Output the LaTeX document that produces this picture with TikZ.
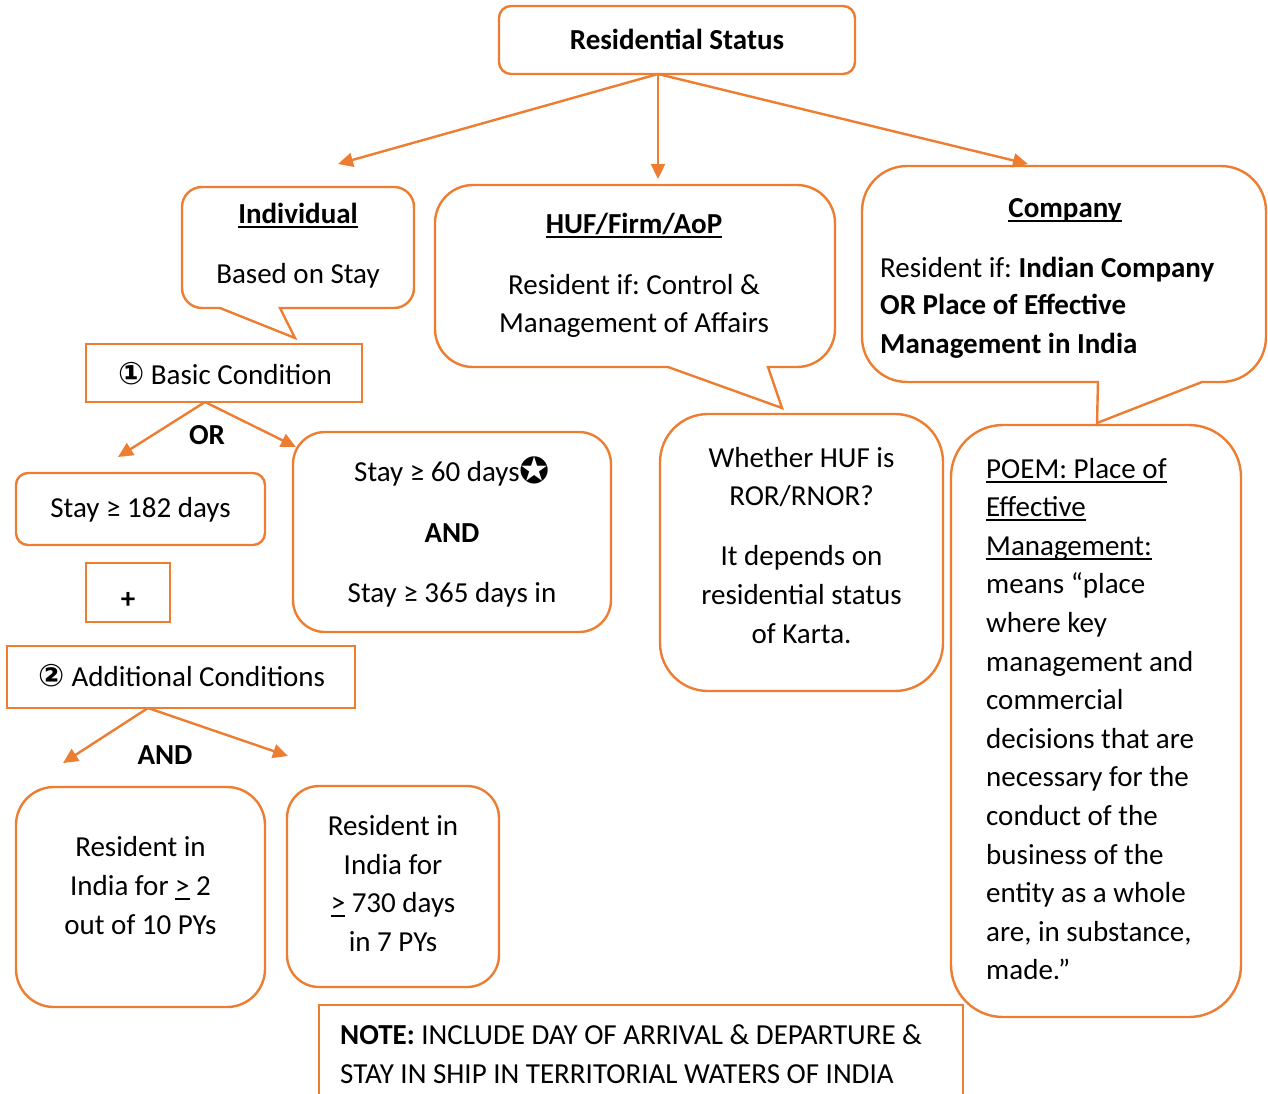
\documentclass[tikz,border=0pt]{standalone}
\usepackage{fontspec}
\setmainfont{Carlito}
\newfontfamily\symf{DejaVu Sans}
\usetikzlibrary{arrows.meta}
\definecolor{acc}{RGB}{237,125,49}
\frenchspacing
% underline drawn as a rule under the text box
\newcommand\ulx[1]{{\setbox0\hbox{#1}\rlap{\rule[-4.5pt]{\wd0}{1.8pt}}\box0}}
% circled digits and the star mark
\newcommand\circnum[1]{{\symf\bfseries\fontsize{31}{36}\selectfont #1}}
\newcommand\starmark{{\symf\fontsize{36}{40}\selectfont\raisebox{-2pt}{✪}}}

\begin{document}
\begin{tikzpicture}[x=1pt,y=-1pt,
  ln/.style={draw=acc, line width=2.4pt},
  sq/.style={ln, rectangle, inner sep=0pt},
  rr/.style={ln, rectangle, inner sep=0pt, rounded corners=#1},
  sz/.style 2 args={minimum width=#1pt, minimum height=#2pt},
  arr/.style={draw=acc, line width=2.4pt, -{Triangle[length=15pt,width=14pt,fill=acc]}},
  txt/.style={anchor=base, inner sep=0pt, font=\fontsize{29}{38.6}\selectfont},
  lt/.style={txt, anchor=base west},
]
\useasboundingbox (0,0) rectangle (1268,1093);

% ---------- top box ----------
\node[rr=12pt, sz={356}{68}] (rs) at (677,40) {};
\node[txt] (rs-t) at (677,49) {\textbf{Residential Status}};

% ---------- callout: individual ----------
\coordinate (ind-tip) at (295,338);
\draw[ln, rounded corners=20pt] (298,187) -- (414,187) -- (414,308)
  [sharp corners] -- (280,308) -- (ind-tip) -- (220,308)
  [rounded corners=20pt] -- (182,308) -- (182,187) -- cycle;
\node[txt] (ind-h) at (298,223) {\ulx{\textbf{Individual}}};
\node[txt] (ind-t) at (298,283) {Based on Stay};

% ---------- callout: HUF ----------
\coordinate (huf-tip) at (782,408);
\draw[ln, rounded corners=38pt] (635,185) -- (835,185) -- (835,367)
  [sharp corners] -- (768,367) -- (huf-tip) -- (668,367)
  [rounded corners=38pt] -- (435,367) -- (435,185) -- cycle;
\node[txt] (huf-h) at (634,233) {\ulx{\textbf{HUF/Firm/AoP}}};
\node[txt] (huf-1) at (634,294) {Resident if: Control \&};
\node[txt] (huf-2) at (634,332) {Management of Affairs};

% ---------- callout: company ----------
\coordinate (comp-tip) at (1097,423);
\draw[ln, rounded corners=45pt] (1065,166) -- (1266,166) -- (1266,382)
  [sharp corners] -- (1202,382) -- (comp-tip) -- (1098,382)
  [rounded corners=45pt] -- (862,382) -- (862,166) -- cycle;
\node[txt] (comp-h) at (1065,217) {\ulx{\textbf{Company}}};
\node[lt] (comp-1) at (880,277) {Resident if: \textbf{Indian Company}};
\node[lt] (comp-2) at (880,314) {\textbf{OR Place of Effective}};
\node[lt] (comp-3) at (880,353) {\textbf{Management in India}};

% ---------- arrows from the top ----------
\coordinate (rs-out) at (658,74);
\coordinate (ind-in) at (338,164);
\coordinate (huf-in) at (658,179);
\coordinate (comp-in) at (1028,164);
\draw[arr] (rs-out) -- (ind-in);
\draw[arr] (rs-out) -- (huf-in);
\draw[arr] (rs-out) -- (comp-in);

% ---------- basic condition ----------
\node[sq, sz={276}{58}] (basic) at (224,373) {};
\node[txt] (basic-t) at (225,384) {\circnum{①} Basic Condition};
\coordinate (basic-out) at (205,402);
\coordinate (s182-in) at (118,457);
\coordinate (s60-in) at (296,447);
\draw[arr] (basic-out) -- (s182-in);
\draw[arr] (basic-out) -- (s60-in);
\node[txt] (or) at (207,444) {\textbf{OR}};

\node[rr=12pt, sz={249}{72}] (s182) at (140.5,509) {};
\node[txt] (s182-t) at (140.5,517) {Stay ≥ 182 days};

\node[rr=32pt, sz={318}{200}] (s60) at (452,532) {};
\node[txt] (s60-1) at (452,481) {Stay ≥ 60 days\starmark};
\node[txt] (s60-2) at (452,542) {\textbf{AND}};
\node[txt] (s60-3) at (452,602) {Stay ≥ 365 days in};

% ---------- plus ----------
\node[sq, sz={84}{59}] (plus) at (128,592.5) {};
\node[txt] (plus-t) at (128,608) {\textbf{+}};

% ---------- additional conditions ----------
\node[sq, sz={348}{62}] (addl) at (181,677) {};
\node[txt] (addl-t) at (182,686) {\circnum{②} Additional Conditions};
\coordinate (addl-out) at (148,708);
\coordinate (r2-in) at (63,763);
\coordinate (r730-in) at (288,756);
\draw[arr] (addl-out) -- (r2-in);
\draw[arr] (addl-out) -- (r730-in);
\node[txt] (and) at (165,764) {\textbf{AND}};

\node[rr=38pt, sz={249}{220}] (r2) at (140.5,897) {};
\node[txt] (r2-1) at (140.5,856) {Resident in};
\node[txt] (r2-2) at (140.5,895) {India for \ulx{>} 2};
\node[txt] (r2-3) at (140.5,934) {out of 10 PYs};

\node[rr=32pt, sz={212}{201}] (r730) at (393,886.5) {};
\node[txt] (r730-1) at (393,835) {Resident in};
\node[txt] (r730-2) at (393,874) {India for};
\node[txt] (r730-3) at (393,912) {\ulx{>} 730 days};
\node[txt] (r730-4) at (393,951) {in 7 PYs};

% ---------- HUF karta ----------
\node[rr=48pt, sz={283}{277}] (karta) at (801.5,552.5) {};
\node[txt] (karta-1) at (801.5,467) {Whether HUF is};
\node[txt] (karta-2) at (801.5,505) {ROR/RNOR?};
\node[txt] (karta-3) at (801.5,565) {It depends on};
\node[txt] (karta-4) at (801.5,604) {residential status};
\node[txt] (karta-5) at (801.5,643) {of Karta.};

% ---------- POEM ----------
\node[rr=52pt, sz={290}{592}] (poem) at (1096,721) {};
\foreach \t [count=\i from 0] in {
  {\ulx{POEM: Place of}}, {\ulx{Effective}}, {\ulx{Management:}},
  {means “place}, {where key}, {management and}, {commercial},
  {decisions that are}, {necessary for the}, {conduct of the},
  {business of the}, {entity as a whole}, {are, in substance,}, {made.”}}
  \node[lt] (poem-\i) at (986, 478+38.6*\i) {\t};

% ---------- note ----------
\node[sq, sz={644}{110}] (note) at (641,1060) {};
\node[lt] (note-1) at (340,1044) {\textbf{NOTE:} INCLUDE DAY OF ARRIVAL \& DEPARTURE \&};
\node[lt] (note-2) at (340,1083) {STAY IN SHIP IN TERRITORIAL WATERS OF INDIA};
\end{tikzpicture}
\end{document}
